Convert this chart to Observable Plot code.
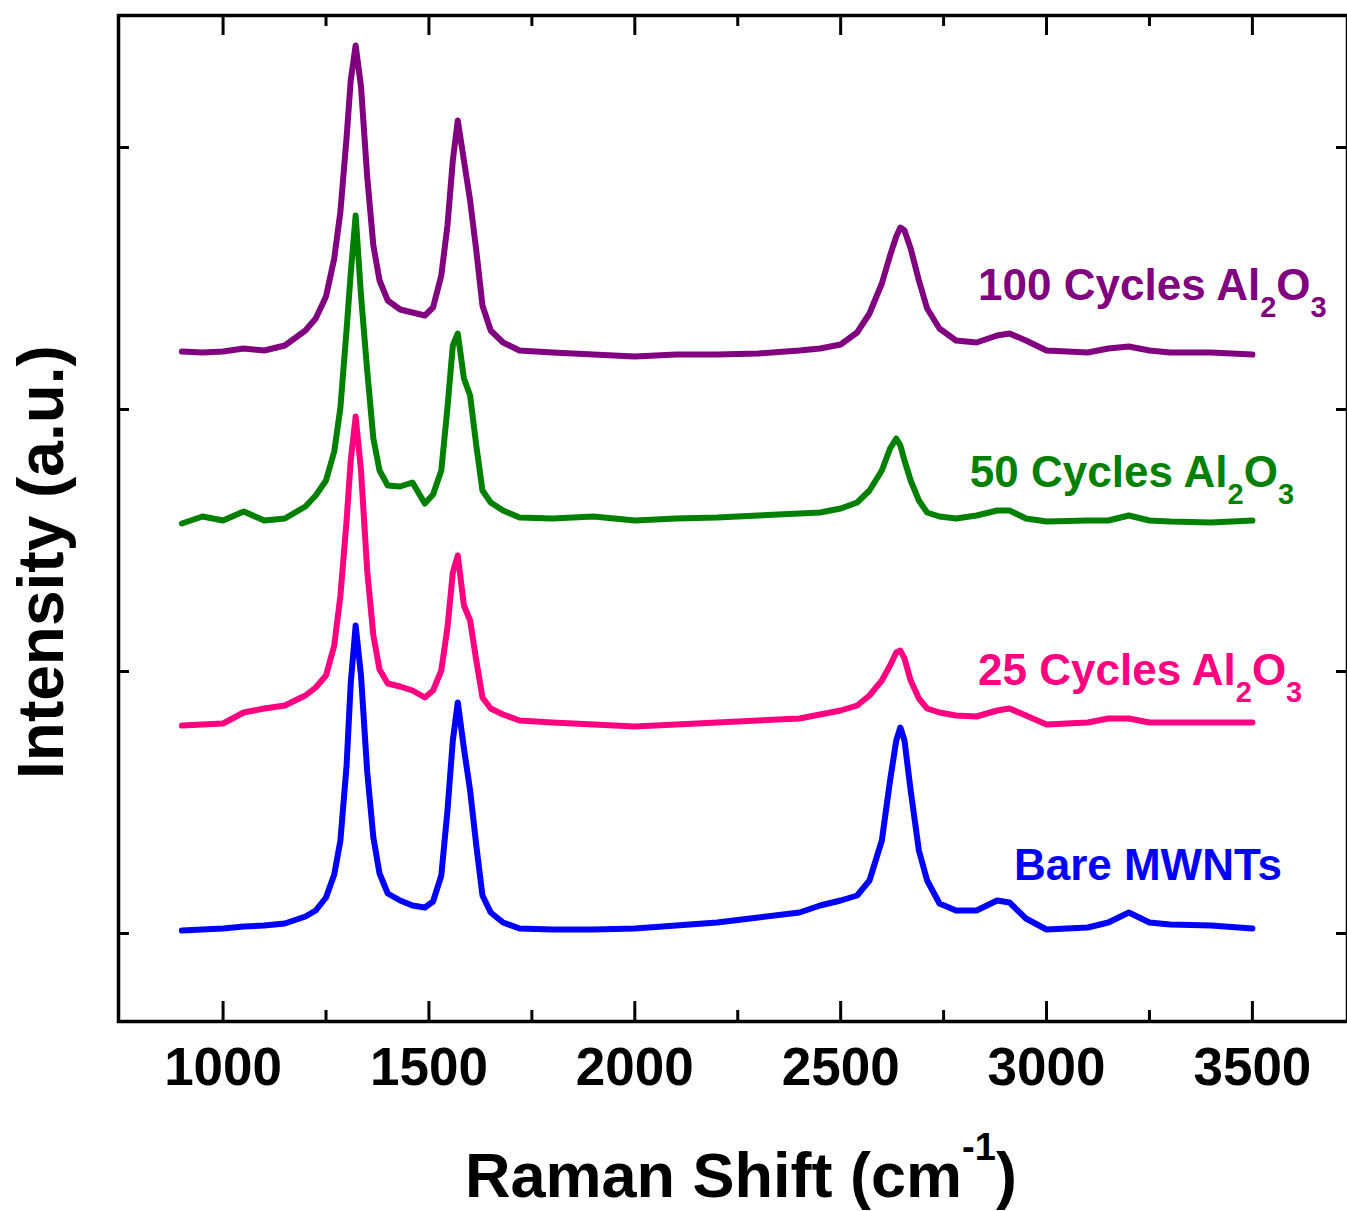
<!DOCTYPE html>
<html>
<head>
<meta charset="utf-8">
<script src="https://cdn.jsdelivr.net/npm/d3@7"></script>
<script src="https://cdn.jsdelivr.net/npm/@observablehq/plot@0.6"></script>
<style>
  html, body { margin: 0; padding: 0; background: #fff; }
  #chart svg { display: block; }
</style>
</head>
<body>
<div id="chart"></div>
<script>
// Raman shift grid (cm^-1)
const wavenumber = [900,950,1000,1050,1100,1150,1200,1225,1250,1270,1285,1300,1310,1322,1335,1350,1365,1380,1400,
  1430,1460,1490,1510,1530,1545,1558,1570,1585,1600,1615,1630,1650,1680,1720,
  1800,1900,2000,2100,2200,2300,2400,2450,2500,2540,2570,2600,2620,2635,2645,2655,2670,2690,2710,
  2740,2780,2830,2880,2910,2950,3000,3100,3150,3200,3250,3300,3400,3500];

// Intensities (a.u., stacked offsets as plotted)
const bare = [3,4,5,7,8,10,17,23,36,59,93,168,250,308,258,162,96,60,40,
  33,28,26,32,58,123,193,231,185,143,88,38,21,11,5,
  4,4,5,8,11,16,21,28,33,38,53,93,153,193,206,193,143,83,53,
  30,23,23,33,31,15,4,6,11,21,11,9,8,5];
const cyc25 = [208,209,210,221,225,228,238,246,258,288,338,413,473,517,463,363,298,264,250,
  247,243,236,243,263,306,361,378,328,313,273,236,225,219,213,
  211,209,207,209,211,213,215,219,223,228,238,253,268,281,283,275,253,235,225,
  221,218,217,223,225,218,209,211,215,215,211,211,211,211];
const cyc50 = [410,417,413,422,413,415,427,438,453,482,526,604,660,718,638,563,495,463,448,
  447,451,430,439,463,526,588,600,555,538,488,443,431,423,416,
  415,417,413,415,416,418,420,421,425,431,443,463,485,495,488,473,453,433,421,
  417,415,418,423,423,415,412,413,413,418,413,412,411,413];
const cyc100 = [582,581,582,585,583,588,603,615,637,675,722,796,853,888,847,757,688,653,633,
  624,621,618,626,658,708,773,813,773,733,683,628,603,591,583,
  581,579,577,579,579,580,583,585,589,601,620,650,678,697,706,703,685,653,625,
  605,593,591,598,600,593,583,581,585,587,583,581,581,579];

const seriesNames = ["Bare MWNTs", "25 Cycles Al2O3", "50 Cycles Al2O3", "100 Cycles Al2O3"];
const seriesValues = [bare, cyc25, cyc50, cyc100];
const seriesColors = ["#0000ff", "#ff0080", "#008000", "#800080"];

// Label texts and anchors (data units: cm^-1, a.u.)
const labelMain = ["Bare MWNTs", "25 Cycles Al", "50 Cycles Al", "100 Cycles Al"];
const labelHasFormula = [false, true, true, true];
const labelX = [2922, 2835, 2815, 2835];
const labelY = [53, 248, 446, 633];

const xTicks = [1000, 1500, 2000, 2500, 3000, 3500];
const xMinorTicks = [1250, 1750, 2250, 2750, 3250];
const yTicks = [0, 262, 524, 786];

const FONT = "'Liberation Sans', Arial, Helvetica, sans-serif";

const rows = seriesNames.flatMap((name, i) =>
  wavenumber.map((w, j) => ({series: name, x: w, y: seriesValues[i][j]})));

const W = 1347, H = 1211;
const mL = 118, mR = 0, mT = 15, mB = 190;
const innerW = W - mL - mR, innerH = H - mT - mB;

const plot = Plot.plot({
  width: W, height: H,
  marginLeft: mL, marginRight: mR, marginTop: mT, marginBottom: mB,
  style: {fontFamily: FONT, background: "white", overflow: "visible"},
  x: {domain: [746, 3731]},
  y: {domain: [-88, 918], axis: null},
  color: {domain: seriesNames, range: seriesColors},
  marks: [
    Plot.line(rows, {x: "x", y: "y", z: "series", stroke: "series", strokeWidth: 6,
      strokeLinejoin: "round", strokeLinecap: "round"}),
    // inward ticks: bottom
    Plot.tickX(xTicks, {x: d => d, insetTop: innerH - 20, stroke: "black", strokeWidth: 3}),
    Plot.tickX(xMinorTicks, {x: d => d, insetTop: innerH - 11, stroke: "black", strokeWidth: 3}),
    // top
    Plot.tickX(xTicks, {x: d => d, insetBottom: innerH - 20, stroke: "black", strokeWidth: 3}),
    Plot.tickX(xMinorTicks, {x: d => d, insetBottom: innerH - 11, stroke: "black", strokeWidth: 3}),
    // left / right
    Plot.tickY(yTicks, {y: d => d, insetRight: innerW - 11, stroke: "black", strokeWidth: 3}),
    Plot.tickY(yTicks, {y: d => d, insetLeft: innerW - 11, stroke: "black", strokeWidth: 3}),
    Plot.axisX(xTicks, {tickSize: 0, tickPadding: 26, fontSize: 53, fontWeight: "bold",
      fill: "black", tickFormat: d => String(d), label: null}),
    Plot.frame({stroke: "black", strokeWidth: 3.5})
  ]
});

document.getElementById("chart").appendChild(plot);

const svg = d3.select(plot);
const sx = plot.scale("x"), sy = plot.scale("y");

// Series labels with subscripts
const lg = svg.append("g").attr("font-family", FONT).attr("font-weight", "bold")
  .attr("text-anchor", "start");
labelMain.forEach((txt, i) => {
  const t = lg.append("text")
    .attr("x", sx.apply(labelX[i]))
    .attr("y", sy.apply(labelY[i]))
    .attr("text-anchor", "start")
    .attr("fill", seriesColors[i])
    .attr("font-size", 44);
  t.append("tspan").text(txt);
  if (labelHasFormula[i]) {
    t.append("tspan").attr("dy", 17).attr("font-size", 29).text("2");
    t.append("tspan").attr("dy", -17).attr("font-size", 44).text("O");
    t.append("tspan").attr("dy", 17).attr("font-size", 29).text("3");
  }
});

// Axis titles
const xt = svg.append("text")
  .attr("x", 465).attr("y", 1197)
  .attr("text-anchor", "start")
  .attr("font-family", FONT).attr("font-weight", "bold").attr("font-size", 63).attr("fill", "black");
xt.append("tspan").text("Raman Shift (cm");
xt.append("tspan").attr("dy", -37).attr("font-size", 38).text("-1");
xt.append("tspan").attr("dy", 37).attr("font-size", 63).text(")");

svg.append("text")
  .attr("transform", "translate(63,562) rotate(-90)")
  .attr("text-anchor", "middle")
  .attr("font-family", FONT).attr("font-weight", "bold").attr("font-size", 64).attr("fill", "black")
  .text("Intensity (a.u.)");
</script>
</body>
</html>
